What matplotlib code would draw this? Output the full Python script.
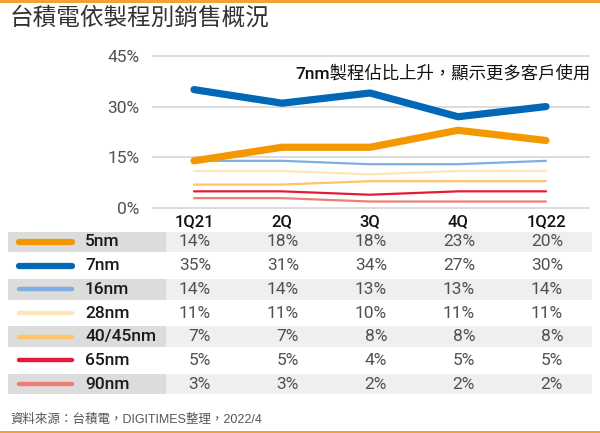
"""TSMC revenue share by process node: line chart + value table."""
import matplotlib
matplotlib.use("Agg")
import matplotlib.pyplot as plt
from matplotlib.patches import Rectangle

plt.rcParams["font.family"] = ["Liberation Sans", "Noto Sans CJK TC", "DejaVu Sans"]

quarters = ["1Q21", "2Q", "3Q", "4Q", "1Q22"]
nodes = ["5nm", "7nm", "16nm", "28nm", "40/45nm", "65nm", "90nm"]
share_5nm = [14, 18, 18, 23, 20]
share_7nm = [35, 31, 34, 27, 30]
share_16nm = [14, 14, 13, 13, 14]
share_28nm = [11, 11, 10, 11, 11]
share_40nm = [7, 7, 8, 8, 8]
share_65nm = [5, 5, 4, 5, 5]
share_90nm = [3, 3, 2, 2, 2]
yticks = [0, 15, 30, 45]

shares = [share_5nm, share_7nm, share_16nm, share_28nm, share_40nm, share_65nm, share_90nm]
colors = ["#F39800", "#0068B7", "#7FAEE0", "#FDE6B8", "#FFC36A", "#E5193A", "#F07D76"]
thick = [True, True, False, False, False, False, False]

W, H = 600, 433
ORANGE = "#F5A035"
LABEL_FONT = ["Roboto", "Liberation Sans", "DejaVu Sans"]


def box(l, t, r, b):
    return [l / W, 1 - b / H, (r - l) / W, (b - t) / H]


def ix(px):
    # pixel x -> category index (1Q21 at 194px, step 88px)
    return (px - 194) / 88


fig = plt.figure(figsize=(6, 4.33), dpi=100)
fig.patch.set_facecolor("white")

# --- line chart ---
ax = fig.add_axes(box(151.7, 50, 590, 211.7))
per = (208.3 - 55.7) / 45
ax.set_ylim(-(211.7 - 208.3) / per, 45 + (55.7 - 50) / per)
ax.set_xlim(ix(151.7), ix(590))
x = list(range(len(quarters)))
# draw thin lines first, thick on top
order = [6, 5, 4, 3, 2, 0, 1]
for k in order:
    ax.plot(x, shares[k], color=colors[k], lw=5.2 if thick[k] else 1.6,
            solid_capstyle="round", solid_joinstyle="round", zorder=3)
ax.set_yticks(yticks)
ax.set_yticklabels([f"{v}%" for v in yticks], color="#505050", fontsize=12.5,
                   family=LABEL_FONT)
ax.set_xticks(x)
ax.set_xticklabels(quarters, color="#111111", fontsize=12,
                   family=LABEL_FONT, weight="medium")
ax.tick_params(axis="y", length=0, pad=9)
ax.tick_params(axis="x", length=0, pad=1.5)
ax.grid(axis="y", color="#D9D9D9", lw=1.3)
ax.set_axisbelow(True)
for s in ax.spines.values():
    s.set_visible(False)
ax.set_facecolor("none")

fig.text(590.7 / W, 1 - 73.3 / H, "7nm製程佔比上升，顯示更多客戶使用",
         ha="right", va="center", fontsize=12.5, color="#111111",
         family=["Roboto", "Noto Sans CJK TC", "DejaVu Sans"], weight="medium")

# --- table ---
tb = fig.add_axes(box(0, 228, 600, 398))
pitch = 23.67
tb.set_xlim(ix(0), ix(600))
tb.set_ylim((398 - 242) / pitch, (228 - 242) / pitch)
tb.axis("off")
for r, name in enumerate(nodes):
    if r % 2 == 0:
        tb.add_patch(Rectangle((ix(8), r - 0.435), ix(166) - ix(8), 0.87,
                               color="#DCDCDC", lw=0))
        tb.add_patch(Rectangle((ix(166), r - 0.435), ix(592) - ix(166), 0.87,
                               color="#EFEFEF", lw=0))
    tb.plot([ix(19), ix(72)], [r, r], color=colors[r],
            lw=4.5 if thick[r] else 3.2, solid_capstyle="round")
    tb.text(ix(85), r, name, ha="left", va="center", fontsize=12.5,
            color="#1A1A1A", family=LABEL_FONT, weight="medium")
    for i, v in enumerate(shares[r]):
        tb.text(i + 17 / 88, r, f"{v}%", ha="right", va="center",
                fontsize=12.5, color="#505050", family=LABEL_FONT)

# --- title, source, frame bars ---
fig.text(10 / W, 1 - 18.5 / H, "台積電依製程別銷售概況", ha="left", va="center",
         fontsize=17, color="#333333")
fig.text(10 / W, 1 - 420 / H, "資料來源：台積電，DIGITIMES整理，2022/4",
         ha="left", va="center", fontsize=9, color="#555555")
fig.add_artist(Rectangle((0, 1 - 2.5 / H), 1, 2.5 / H, color=ORANGE, lw=0,
                         transform=fig.transFigure))
fig.add_artist(Rectangle((0, 0), 1, 2.5 / H, color=ORANGE, lw=0,
                         transform=fig.transFigure))

fig.savefig("out.png", dpi=100)
